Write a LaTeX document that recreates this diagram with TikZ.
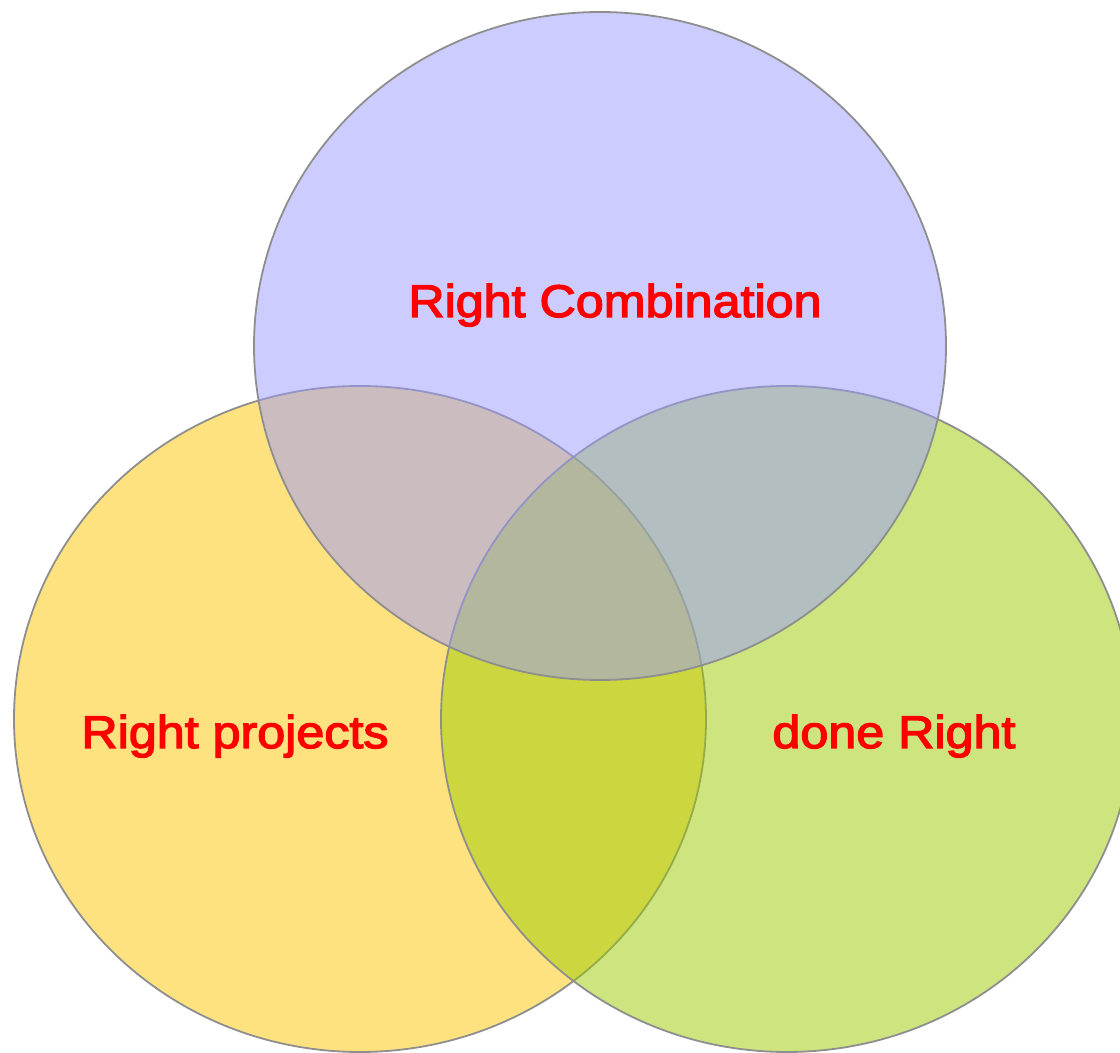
\documentclass[tikz,border=0pt]{standalone}
\usepackage{fontspec}
\setmainfont{Liberation Sans}[FakeStretch=1.1, FakeBold=3]
\definecolor{setyellow}{RGB}{252,198,0}
\definecolor{setgreen}{RGB}{155,201,0}
\definecolor{setblue}{RGB}{153,153,255}
\definecolor{ringgrey}{HTML}{8E8E8E}

\begin{document}
\begin{tikzpicture}[x=0.02cm, y=-0.02cm, every node/.style={align=center},
  ring/.style={draw=ringgrey, line width=0.036cm, fill opacity=0.5, draw opacity=1},
  settext/.style={text=red, anchor=base, font=\fontsize{26}{30}\selectfont}]
\useasboundingbox (0,0) rectangle (1120,1053);

% Sets
\draw[ring, fill=setyellow] (360,719) ellipse [x radius=346, y radius=333];
\draw[ring, fill=setgreen] (787,719) ellipse [x radius=346, y radius=333];
\draw[ring, fill=setblue] (600,346) ellipse [x radius=346, y radius=334];

% Labels
\node[settext] (combination) at (615,317) {Right Combination};
\node[settext] (projects) at (235,748) {Right projects};
\node[settext] (doneright) at (894,748) {done Right};
\end{tikzpicture}
\end{document}
